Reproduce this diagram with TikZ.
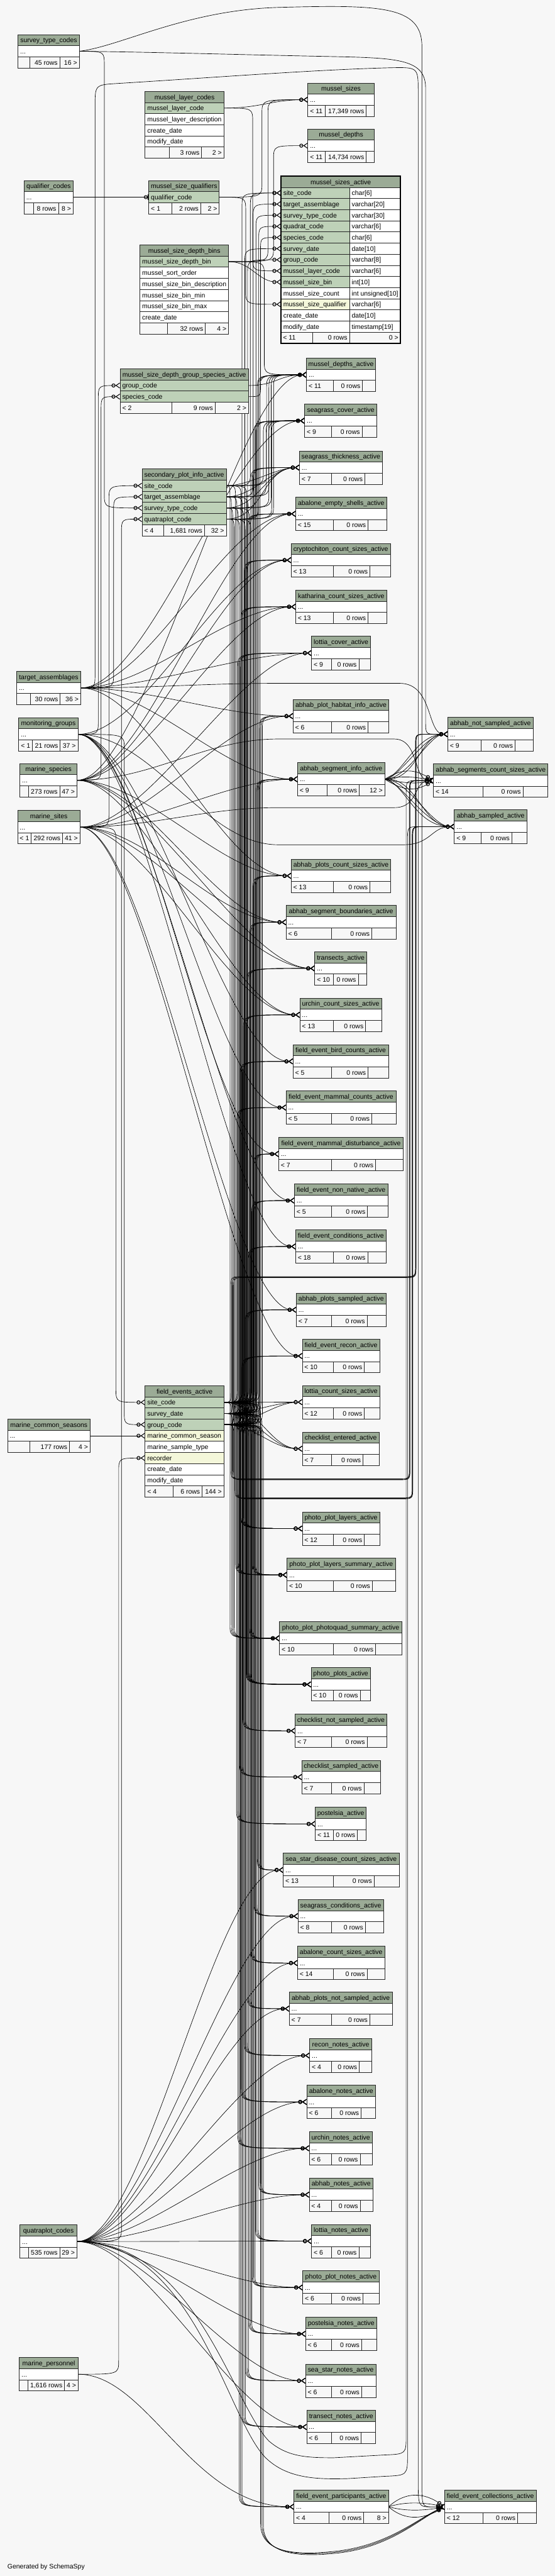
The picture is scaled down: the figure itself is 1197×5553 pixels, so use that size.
\documentclass[tikz,border=0pt]{standalone}
\usepackage{fontspec}
\setmainfont{Liberation Sans}
\usetikzlibrary{arrows.meta,calc}
\definecolor{bgc}{HTML}{F7F7F7}
\definecolor{hdrc}{HTML}{9BAB96}
\definecolor{keyc}{HTML}{BED1B8}
\definecolor{fkc}{HTML}{F4F7DA}
\newcommand\tabfont{\fontsize{14.2}{16}\selectfont}
\tikzset{
 tb/.style={draw=black!85,line width=1.1pt},
 txt/.style={font=\tabfont,inner sep=0pt,text=black},
 fk/.style={draw=black,line width=0.9pt,-{Circle[open,length=8.5pt,width=8.5pt,line width=1.4pt] Straight Barb[reversed,length=8pt,width=11pt,line width=1.4pt]}},
 fkone/.style={draw=black,line width=0.9pt,-{Circle[open,length=8.5pt,width=8.5pt,line width=1.4pt] Bar[width=11pt,line width=2.2pt]}},
}
% table parts
\newcommand\THdr[5]{\draw[tb,fill=hdrc] (#2,#4) rectangle (#3,#4+24);
 \node[txt,anchor=base] (#1) at ({(#2+#3)/2},#4+17.3) {#5};}
\newcommand\TRow[5]{\draw[tb,fill=#4] (#1,#3) rectangle (#2,#3+24);
 \node[txt,anchor=base west] at (#1+4.5,#3+17.3) {#5};}
\newcommand\TFoot[8]{\draw[tb,fill=bgc] (#1,#5) rectangle (#2,#5+24);
 \draw[tb,fill=bgc] (#2,#5) rectangle (#3,#5+24);
 \draw[tb,fill=bgc] (#3,#5) rectangle (#4,#5+24);
 \node[txt,anchor=base west] at (#1+4.5,#5+17.3) {#6};
 \node[txt,anchor=base east] at (#3-4.5,#5+17.3) {#7};
 \node[txt,anchor=base east] at (#4-4.5,#5+17.3) {#8};}
\newcommand\CTab[9]{\THdr{#1}{#2}{#5}{#6}{#7}\TRow{#2}{#5}{#6+24}{white}{...}\TFoot{#2}{#3}{#4}{#5}{#6+48}{#8}{#9}{}}
\newcommand\MRow[4]{\draw[tb,fill=#2] (606,#1) rectangle (754,#1+24);
 \draw[tb,fill=white] (754,#1) rectangle (864,#1+24);
 \node[txt,anchor=base west] at (611,#1+17.3) {#3};
 \node[txt,anchor=base west] at (758.5,#1+17.3) {#4};}
% connectors
\newcommand\Sedge[3]{\draw[fk] (#1) .. controls +(#3,0) and +(-#3,0) .. (#2);}
\newcommand\Vup[4]{\draw[fk] let \p1=(#1),\p2=(#2) in (\p1) .. controls ({(#3)*1pt},\y1) .. ({(#3)*1pt},\y1+#4pt) -- ({(#3)*1pt},\y2-#4pt) .. controls ({(#3)*1pt},\y2) .. (\p2);}
\newcommand\Vdn[4]{\draw[fk] let \p1=(#1),\p2=(#2) in (\p1) .. controls ({(#3)*1pt},\y1) .. ({(#3)*1pt},\y1-#4pt) -- ({(#3)*1pt},\y2+#4pt) .. controls ({(#3)*1pt},\y2) .. (\p2);}
\newcommand\FEu[2]{\Vup{feao1}{#1}{#2}{30}\Vup{feao2}{#1}{#2+3}{30}\Vup{feao3}{#1}{#2+6}{30}}
\newcommand\FEd[2]{\Vdn{feao1}{#1}{#2}{30}\Vdn{feao2}{#1}{#2+3}{30}\Vdn{feao3}{#1}{#2+6}{30}}
\newcommand\CorrA[7]{\draw[fk] (#1) .. controls (#3,#2) .. (#3,#2-25) -- (#3,#4+25) .. controls (#3,#4) .. (#3+25,#4) -- (#5-25,#4) .. controls (#5,#4) .. (#5,#4-25) -- (#5,#6+25) .. controls (#5,#6) .. (#5+25,#6) -- (#7);}
\newcommand\CorrB[7]{\draw[fk] (#1) .. controls (#3,#2) .. (#3,#2+25) -- (#3,#4-25) .. controls (#3,#4) .. (#3+25,#4) -- (#5-25,#4) .. controls (#5,#4) .. (#5,#4-25) -- (#5,#6+25) .. controls (#5,#6) .. (#5+25,#6) -- (#7);}
\begin{document}
\begin{tikzpicture}[x=1pt,y=-1pt]
\useasboundingbox (0,0) rectangle (1197,5553);
\fill[bgc] (0,0) rectangle (1197,5553);
% ---------- anchor coordinates
\coordinate (stc) at (171,110.5);
\coordinate (qc) at (158,425);
\coordinate (ta) at (174,1483);
\coordinate (mg) at (168,1583);
\coordinate (msp) at (166,1682);
\coordinate (msite) at (172.5,1783);
\coordinate (mcs) at (194.5,3095);
\coordinate (qpc) at (166,4832);
\coordinate (mp) at (168.8,5118);
\coordinate (mlc) at (483,233);
\coordinate (msqo) at (473,425);
\coordinate (msqi) at (321,425);
\coordinate (msdb) at (493,564);
\coordinate (gsgo) at (536,831);
\coordinate (gsso) at (536,855);
\coordinate (gsgi) at (259,831);
\coordinate (gssi) at (259,855);
\coordinate (spio1) at (488,1047);
\coordinate (spio2) at (488,1071);
\coordinate (spio3) at (488,1095);
\coordinate (spio4) at (488,1119);
\coordinate (spii1) at (306.5,1047);
\coordinate (spii2) at (306.5,1071);
\coordinate (spii3) at (306.5,1095);
\coordinate (spii4) at (306.5,1119);
\coordinate (feao1) at (483,3023);
\coordinate (feao2) at (483,3047);
\coordinate (feao3) at (483,3071);
\coordinate (feasite) at (313,3023);
\coordinate (feagrp) at (313,3071);
\coordinate (feamcs) at (313,3095);
\coordinate (fearec) at (313,3143);
\coordinate (asio) at (830,1679.7);
\coordinate (fepo) at (838,5403.7);
\coordinate (msz) at (664,215);
\coordinate (mdp) at (664,314);
\coordinate (msa1) at (606,416);
\coordinate (msa2) at (606,440);
\coordinate (msa3) at (606,464);
\coordinate (msa4) at (606,488);
\coordinate (msa5) at (606,512);
\coordinate (msa6) at (606,536);
\coordinate (msa7) at (606,560);
\coordinate (msa8) at (606,584);
\coordinate (msa9) at (606,608);
\coordinate (msa11) at (606,656);
\coordinate (mda) at (661,808);
\coordinate (sca) at (657,907);
\coordinate (sta) at (645.7,1008);
\coordinate (aes) at (637.7,1107.7);
\coordinate (ccs) at (628,1207.5);
\coordinate (kcs) at (637.7,1308);
\coordinate (lca) at (672,1407.8);
\coordinate (aphi) at (632,1543.7);
\coordinate (asi) at (641.7,1679.7);
\coordinate (apcs) at (628,1888);
\coordinate (asb) at (617,1988);
\coordinate (tra) at (679,2087.5);
\coordinate (ucs) at (646.7,2187.7);
\coordinate (fbc) at (632,2288);
\coordinate (fmc) at (617,2387.5);
\coordinate (fmd) at (601,2487.6);
\coordinate (fnn) at (635,2588);
\coordinate (fco) at (637.7,2687);
\coordinate (aps) at (639,2823.5);
\coordinate (fre) at (652,2923);
\coordinate (lcs) at (652,3022.5);
\coordinate (cea) at (652,3123);
\coordinate (ppl) at (652,3295);
\coordinate (pls) at (619,3395);
\coordinate (ppq) at (602.7,3531.6);
\coordinate (ppa) at (671,3631);
\coordinate (cns) at (636.7,3731);
\coordinate (csa) at (651,3830.7);
\coordinate (pos) at (680,3931.7);
\coordinate (ssd) at (611,4031);
\coordinate (sgc) at (642.7,4130.6);
\coordinate (acs) at (641.7,4231.6);
\coordinate (apn) at (624,4330);
\coordinate (rna) at (668,4431);
\coordinate (ana) at (661.7,4531);
\coordinate (una) at (667,4631);
\coordinate (abn) at (667,4731);
\coordinate (lna) at (672,4831);
\coordinate (ppn) at (653,4931);
\coordinate (pna) at (659,5031);
\coordinate (ssn) at (659,5132);
\coordinate (tna) at (661.5,5231.7);
\coordinate (fep) at (634,5403.7);
\coordinate (ans) at (965.7,1582.7);
\coordinate (asc) at (935,1682.7);
\coordinate (asa) at (980,1782);
\coordinate (fec) at (959,5404);
% ---------- connectors
\draw[fkone] (qc) -- (msqi);
\draw[fk] (mcs) -- (feamcs);
\Sedge{mlc}{msz}{80}
\Vdn{mlc}{msa8}{545}{30}
\Vup{msqo}{msz}{565}{30}
\Vdn{msqo}{msa11}{530}{30}
\Vup{msdb}{msz}{578}{30}
\Vup{msdb}{mdp}{590}{30}
\Sedge{msdb}{msa9}{50}
\Vdn{msdb}{mda}{570}{30}
\Vup{gsso}{msa5}{562}{25}
\Sedge{gsgo}{mda}{60}
% secondary plot info
\Vup{spio1}{msa1}{540}{30}
\Vup{spio2}{msa2}{546}{30}
\Vup{spio3}{msa3}{552}{30}
\Vup{spio4}{msa4}{558}{30}
\Vup{spio1}{mda}{575}{30}
\Vup{spio2}{mda}{580}{30}
\Vup{spio3}{mda}{585}{30}
\Vup{spio4}{mda}{590}{30}
\Vup{spio1}{sca}{568}{30}
\Vup{spio2}{sca}{574}{30}
\Vup{spio3}{sca}{580}{30}
\Vup{spio4}{sca}{586}{30}
\Sedge{spio1}{sta}{50}
\Sedge{spio2}{sta}{60}
\Sedge{spio3}{sta}{70}
\Sedge{spio4}{sta}{80}
\foreach \ch/\bb in {ppl/520,pls/508,ppq/496,ppa/532}{
 \Vdn{spio1}{\ch}{\bb}{30}\Vdn{spio2}{\ch}{\bb+3}{30}\Vdn{spio3}{\ch}{\bb+6}{30}\Vdn{spio4}{\ch}{\bb+9}{30}}
% field events
\Vup{feao1}{msa1}{522}{30}
\Vup{feao2}{msa6}{528}{30}
\Vup{feao3}{msa7}{534}{30}
\foreach \ch/\bb in {mda/555,sca/548,sta/541,aes/534,ccs/527,kcs/520,lca/513,aphi/560,asi/553,apcs/546,asb/539,tra/532,ucs/525,fbc/518,fmc/511,fmd/548,fnn/543,fco/536,aps/529,fre/522}{\FEu{\ch}{\bb}}
\Sedge{feao1}{lcs}{60}\Sedge{feao2}{lcs}{60}\Sedge{feao3}{lcs}{60}
\Sedge{feao1}{cea}{70}\Sedge{feao2}{cea}{70}\Sedge{feao3}{cea}{70}
\foreach \ch/\bb in {ppl/520,pls/545,ppq/538,ppa/531,cns/524,csa/517,pos/510,ssd/555,sgc/548,acs/541,apn/534,rna/527,ana/520,una/513,abn/558,lna/551,ppn/544,pna/537,ssn/530,tna/523,fep/516}{\FEd{\ch}{\bb}}
\CorrA{feao1}{3023}{498}{2752}{896}{1582.7}{ans}
\CorrA{feao2}{3047}{501}{2753}{896.7}{1582.7}{ans}
\CorrA{feao3}{3071}{504}{2754}{897.4}{1582.7}{ans}
\CorrB{feao1}{3023}{498}{3188}{883}{1682.7}{asc}
\CorrB{feao2}{3047}{501}{3189}{883.7}{1682.7}{asc}
\CorrB{feao3}{3071}{504}{3190}{884.4}{1682.7}{asc}
\CorrB{feao1}{3023}{507}{3229}{889}{1782}{asa}
\CorrB{feao2}{3047}{510}{3230}{889.7}{1782}{asa}
\CorrB{feao3}{3071}{513}{3231}{890.4}{1782}{asa}
\draw[fk] (feao1) .. controls (562,3023) .. (562,3053) -- (562,5440) .. controls (562,5505) and (640,5508) .. (720,5500) .. controls (840,5488) and (905,5425) .. (fec);
\draw[fk] (feao2) .. controls (565,3047) .. (565,3077) -- (565,5442) .. controls (565,5505) and (642,5510) .. (722,5502) .. controls (842,5490) and (906,5426) .. (fec);
\draw[fk] (feao3) .. controls (568,3071) .. (568,3101) -- (568,5444) .. controls (568,5507) and (644,5512) .. (724,5504) .. controls (844,5492) and (907,5427) .. (fec);
% abhab segment info -> column 4
\draw[fk] (asio) .. controls +(30,0) and +(-50,0) .. (ans);
\draw[fk] (asio) .. controls +(50,0) and +(-40,0) .. (ans);
\draw[fk] (asio) .. controls +(70,5) and +(-60,0) .. (ans);
\draw[fk] (asio) .. controls +(40,-10) and +(-70,0) .. (ans);
\draw[fk] (asio) .. controls +(40,-25) and +(-40,-25) .. (asc);
\draw[fk] (asio) .. controls +(40,-8) and +(-40,-8) .. (asc);
\draw[fk] (asio) .. controls +(40,8) and +(-40,8) .. (asc);
\draw[fk] (asio) .. controls +(40,25) and +(-40,25) .. (asc);
\draw[fk] (asio) .. controls +(30,0) and +(-60,0) .. (asa);
\draw[fk] (asio) .. controls +(50,0) and +(-50,0) .. (asa);
\draw[fk] (asio) .. controls +(70,-5) and +(-70,0) .. (asa);
\draw[fk] (asio) .. controls +(45,10) and +(-85,0) .. (asa);
% participants -> collections
\draw[fk] (fepo) .. controls (875,5370) and (915,5372) .. (fec);
\draw[fk] (fepo) .. controls (875,5392) and (915,5394) .. (fec);
\draw[fk] (fepo) .. controls (875,5414) and (915,5412) .. (fec);
\draw[fk] (fepo) .. controls (875,5436) and (915,5430) .. (fec);
% code tables -> secondary / group species / field events
\Vup{msite}{spii1}{235}{30}
\Vup{ta}{spii2}{245}{30}
\Vdn{stc}{spii3}{225}{30}
\Vup{qpc}{spii4}{262}{30}
\Vup{mg}{gsgi}{212}{30}
\Vup{msp}{gssi}{218}{30}
\Vdn{msite}{feasite}{250}{30}
\Vdn{mg}{feagrp}{268}{30}
\Vup{mp}{fearec}{256}{30}
\draw[fk] (mp) .. controls +(150,0) and +(-220,0) .. (fep);
% code tables -> column 3
\foreach \ch in {aes,kcs,lca,aphi,asi,apcs,sca}{\Sedge{ta}{\ch}{150}}
\foreach \ch in {ccs,fbc,fmc,fmd,fnn,fco}{\Sedge{mg}{\ch}{150}}
\foreach \ch in {aes,ccs,kcs,apcs,asb,ucs,tra,mda}{\Sedge{msp}{\ch}{150}}
\foreach \ch in {lca,aphi,asi,asb,tra,ucs,aps,fre}{\Sedge{msite}{\ch}{150}}
\foreach \ch in {ssd,sgc,acs,apn,rna,ana,una,abn,lna,ppn,pna,ssn,tna}{\Sedge{qpc}{\ch}{150}}
% long routes to column 4
\draw[fk] (ta) .. controls (330,1483) and (440,1473) .. (600,1473) -- (862,1473) .. controls (935,1473) and (920,1582.7) .. (ans);
\draw[fk] (msp) .. controls (330,1682) and (440,1593) .. (600,1593) -- (850,1593) .. controls (905,1593) and (890,1682.7) .. (asc);
\draw[fk] (msite) .. controls (330,1783) and (440,1741) .. (600,1741) -- (850,1741) .. controls (905,1741) and (890,1682.7) .. (asc);
\draw[fk] (mg) .. controls (330,1583) and (440,1821) .. (600,1821) -- (870,1821) .. controls (930,1821) and (930,1782) .. (asa);
\draw[fk] (qpc) .. controls (420,4832) and (500,5180) .. (580,5262) .. controls (620,5296) and (660,5298) .. (720,5298) -- (830,5292) .. controls (876,5290) .. (876,5250) -- (876,1712.7) .. controls (876,1682.7) .. (902,1682.7) -- (asc);
\draw[fk] (qpc) .. controls (420,4832) and (490,5220) .. (575,5300) .. controls (620,5342) and (680,5345) .. (750,5343) -- (830,5338) .. controls (879,5336) .. (879,5290) -- (879,1812) .. controls (879,1782) .. (905,1782) -- (asa);
\draw[fk] (stc) .. controls (260,100) and (400,22) .. (600,16) .. controls (820,10) and (910,12) .. (910,100) -- (910,5350) .. controls (910,5404) .. (935,5404) -- (fec);
\draw[fk] (ta) .. controls (205,1483) .. (205,1450) -- (205,230) .. controls (205,183) .. (252,180) .. controls (450,168) and (680,150) .. (845,146) .. controls (902,145) .. (902,200) -- (902,5345) .. controls (902,5404) .. (932,5404) -- (fec);
\draw[fk] (stc) .. controls (320,112) and (520,118) .. (720,122) .. controls (860,125) and (918,128) .. (918,190) -- (918,1553) .. controls (918,1582.7) .. (942,1582.7) -- (ans);
% ---------- tables, column 1
\THdr{tstc}{39}{171}{74.5}{survey\_type\_codes}
\TRow{39}{171}{98.5}{white}{...}
\TFoot{39}{64}{129}{171}{122.5}{}{45 rows}{16 >}
\THdr{tqc}{52}{158}{389}{qualifier\_codes}
\TRow{52}{158}{413}{white}{...}
\TFoot{52}{73}{126}{158}{437}{}{8 rows}{8 >}
\THdr{tta}{36}{174}{1447}{target\_assemblages}
\TRow{36}{174}{1471}{white}{...}
\TFoot{36}{65}{130}{174}{1495}{}{30 rows}{36 >}
\THdr{tmg}{40.5}{168}{1547}{monitoring\_groups}
\TRow{40.5}{168}{1571}{white}{...}
\TFoot{40.5}{70}{130}{168}{1595}{< 1}{21 rows}{37 >}
\THdr{tms}{43}{166}{1646}{marine\_species}
\TRow{43}{166}{1670}{white}{...}
\TFoot{43}{61}{129}{166}{1694}{}{273 rows}{47 >}
\THdr{tmsite}{38}{172.5}{1747}{marine\_sites}
\TRow{38}{172.5}{1771}{white}{...}
\TFoot{38}{67}{135}{172.5}{1795}{< 1}{292 rows}{41 >}
\THdr{tmcs}{16.5}{194.5}{3059}{marine\_common\_seasons}
\TRow{16.5}{194.5}{3083}{white}{...}
\TFoot{16.5}{64}{150}{194.5}{3107}{}{177 rows}{4 >}
\THdr{tqpc}{43}{166}{4796}{quatraplot\_codes}
\TRow{43}{166}{4820}{white}{...}
\TFoot{43}{61}{129}{166}{4844}{}{535 rows}{29 >}
\THdr{tmp}{41.7}{168.8}{5082}{marine\_personnel}
\TRow{41.7}{168.8}{5106}{white}{...}
\TFoot{41.7}{59.7}{139.3}{168.8}{5130}{}{1,616 rows}{4 >}
% ---------- column 2
\THdr{tmlc}{313}{483}{197}{mussel\_layer\_codes}
\TRow{313}{483}{221}{keyc}{mussel\_layer\_code}
\TRow{313}{483}{245}{white}{mussel\_layer\_description}
\TRow{313}{483}{269}{white}{create\_date}
\TRow{313}{483}{293}{white}{modify\_date}
\TFoot{313}{365}{435}{483}{317}{}{3 rows}{2 >}
\THdr{tmsq}{321}{473}{389}{mussel\_size\_qualifiers}
\TRow{321}{473}{413}{keyc}{qualifier\_code}
\TFoot{321}{371}{433}{473}{437}{< 1}{2 rows}{2 >}
\THdr{tmsdb}{302}{493}{528}{mussel\_size\_depth\_bins}
\TRow{302}{493}{552}{keyc}{mussel\_size\_depth\_bin}
\TRow{302}{493}{576}{white}{mussel\_sort\_order}
\TRow{302}{493}{600}{white}{mussel\_size\_bin\_description}
\TRow{302}{493}{624}{white}{mussel\_size\_bin\_min}
\TRow{302}{493}{648}{white}{mussel\_size\_bin\_max}
\TRow{302}{493}{672}{white}{create\_date}
\TFoot{302}{361}{443}{493}{696}{}{32 rows}{4 >}
\THdr{tgs}{259}{536}{795}{mussel\_size\_depth\_group\_species\_active}
\TRow{259}{536}{819}{keyc}{group\_code}
\TRow{259}{536}{843}{keyc}{species\_code}
\TFoot{259}{371}{464}{536}{867}{< 2}{9 rows}{2 >}
\THdr{tspi}{306.5}{488}{1011}{secondary\_plot\_info\_active}
\TRow{306.5}{488}{1035}{keyc}{site\_code}
\TRow{306.5}{488}{1059}{keyc}{target\_assemblage}
\TRow{306.5}{488}{1083}{keyc}{survey\_type\_code}
\TRow{306.5}{488}{1107}{keyc}{quatraplot\_code}
\TFoot{306.5}{353}{441}{488}{1131}{< 4}{1,681 rows}{32 >}
\THdr{tfea}{313}{483}{2987}{field\_events\_active}
\TRow{313}{483}{3011}{keyc}{site\_code}
\TRow{313}{483}{3035}{keyc}{survey\_date}
\TRow{313}{483}{3059}{keyc}{group\_code}
\TRow{313}{483}{3083}{fkc}{marine\_common\_season}
\TRow{313}{483}{3107}{white}{marine\_sample\_type}
\TRow{313}{483}{3131}{fkc}{recorder}
\TRow{313}{483}{3155}{white}{create\_date}
\TRow{313}{483}{3179}{white}{modify\_date}
\TFoot{313}{373}{436}{483}{3203}{< 4}{6 rows}{144 >}
% ---------- column 3
\CTab{tmsz}{664}{702}{790}{807}{179}{mussel\_sizes}{< 11}{17,349 rows}
\CTab{tmdp}{664}{702}{790}{807}{278}{mussel\_depths}{< 11}{14,734 rows}
\draw[tb,fill=hdrc] (606,380) rectangle (864,404);
\node[txt,anchor=base] (tmsa) at (735,397.3) {mussel\_sizes\_active};
\MRow{404}{keyc}{site\_code}{char[6]}
\MRow{428}{keyc}{target\_assemblage}{varchar[20]}
\MRow{452}{keyc}{survey\_type\_code}{varchar[30]}
\MRow{476}{keyc}{quadrat\_code}{varchar[6]}
\MRow{500}{keyc}{species\_code}{char[6]}
\MRow{524}{keyc}{survey\_date}{date[10]}
\MRow{548}{keyc}{group\_code}{varchar[8]}
\MRow{572}{keyc}{mussel\_layer\_code}{varchar[6]}
\MRow{596}{keyc}{mussel\_size\_bin}{int[10]}
\MRow{620}{white}{mussel\_size\_count}{int unsigned[10]}
\MRow{644}{fkc}{mussel\_size\_qualifier}{varchar[6]}
\MRow{668}{white}{create\_date}{date[10]}
\MRow{692}{white}{modify\_date}{timestamp[19]}
\TFoot{606}{674}{754}{864}{716}{< 11}{0 rows}{0 >}
\draw[line width=3pt,black] (606,380) rectangle (864,740);
\CTab{tmda}{661}{719}{782}{810}{772}{mussel\_depths\_active}{< 11}{0 rows}
\CTab{tsca}{657}{715}{781}{813}{871}{seagrass\_cover\_active}{< 9}{0 rows}
\CTab{tsta}{645.7}{715}{787}{824.7}{972}{seagrass\_thickness\_active}{< 7}{0 rows}
\CTab{taes}{637.7}{719}{794}{834}{1071.7}{abalone\_empty\_shells\_active}{< 15}{0 rows}
\CTab{tccs}{628}{719}{798}{842}{1171.5}{cryptochiton\_count\_sizes\_active}{< 13}{0 rows}
\CTab{tkcs}{637.7}{719}{794}{834}{1272}{katharina\_count\_sizes\_active}{< 13}{0 rows}
\CTab{tlca}{672}{715}{774}{799}{1371.8}{lottia\_cover\_active}{< 9}{0 rows}
\CTab{taphi}{632}{715}{794}{839}{1507.7}{abhab\_plot\_habitat\_info\_active}{< 6}{0 rows}
\THdr{tasi}{641.7}{830}{1643.7}{abhab\_segment\_info\_active}
\TRow{641.7}{830}{1667.7}{white}{...}
\TFoot{641.7}{706}{775}{830}{1691.7}{< 9}{0 rows}{12 >}
\CTab{tapcs}{628}{719}{798}{843}{1852}{abhab\_plots\_count\_sizes\_active}{< 13}{0 rows}
\CTab{tasb}{617}{715}{802}{854}{1952}{abhab\_segment\_boundaries\_active}{< 6}{0 rows}
\CTab{ttra}{679}{719}{772.7}{791}{2051.5}{transects\_active}{< 10}{0 rows}
\CTab{tucs}{646.7}{719}{788.7}{823}{2151.7}{urchin\_count\_sizes\_active}{< 13}{0 rows}
\CTab{tfbc}{632}{715}{794}{838}{2252}{field\_event\_bird\_counts\_active}{< 5}{0 rows}
\CTab{tfmc}{617}{715}{802}{854}{2351.5}{field\_event\_mammal\_counts\_active}{< 5}{0 rows}
\CTab{tfmd}{601}{715}{810}{870}{2451.6}{field\_event\_mammal\_disturbance\_active}{< 7}{0 rows}
\CTab{tfnn}{635}{715}{792.7}{836.7}{2552}{field\_event\_non\_native\_active}{< 5}{0 rows}
\CTab{tfco}{637.7}{719}{793}{832.7}{2651}{field\_event\_conditions\_active}{< 18}{0 rows}
\CTab{taps}{639}{715}{791.7}{832.7}{2787.5}{abhab\_plots\_sampled\_active}{< 7}{0 rows}
\CTab{tfre}{652}{719}{786}{819}{2887}{field\_event\_recon\_active}{< 10}{0 rows}
\CTab{tlcs}{652}{719}{786}{819}{2986.5}{lottia\_count\_sizes\_active}{< 12}{0 rows}
\CTab{tcea}{652}{715}{783}{818}{3087}{checklist\_entered\_active}{< 7}{0 rows}
\CTab{tppl}{652}{719}{786}{819}{3259}{photo\_plot\_layers\_active}{< 12}{0 rows}
\CTab{tpls}{619}{719}{803}{852.7}{3359}{photo\_plot\_layers\_summary\_active}{< 10}{0 rows}
\CTab{tppq}{602.7}{719}{810}{867}{3495.6}{photo\_plot\_photoquad\_summary\_active}{< 10}{0 rows}
\CTab{tppa}{671}{719}{777}{799}{3595}{photo\_plots\_active}{< 10}{0 rows}
\CTab{tcns}{636.7}{715}{791.7}{834}{3695}{checklist\_not\_sampled\_active}{< 7}{0 rows}
\CTab{tcsa}{651}{715}{785}{820.7}{3794.7}{checklist\_sampled\_active}{< 7}{0 rows}
\CTab{tpos}{680}{719}{771}{790}{3895.7}{postelsia\_active}{< 11}{0 rows}
\CTab{tssd}{611}{719}{807}{861}{3995}{sea\_star\_disease\_count\_sizes\_active}{< 13}{0 rows}
\CTab{tsgc}{642.7}{715}{788}{827}{4094.6}{seagrass\_conditions\_active}{< 8}{0 rows}
\CTab{tacs}{641.7}{719}{791.7}{830}{4195.6}{abalone\_count\_sizes\_active}{< 14}{0 rows}
\CTab{tapn}{624}{715}{797.7}{846}{4294}{abhab\_plots\_not\_sampled\_active}{< 7}{0 rows}
\CTab{trna}{668}{715}{775}{802}{4395}{recon\_notes\_active}{< 4}{0 rows}
\CTab{tana}{661.7}{715}{779}{810}{4495}{abalone\_notes\_active}{< 6}{0 rows}
\CTab{tuna}{667}{715}{776.7}{803}{4595}{urchin\_notes\_active}{< 6}{0 rows}
\CTab{tabn}{667}{715}{777}{804.7}{4695}{abhab\_notes\_active}{< 4}{0 rows}
\CTab{tlna}{672}{715}{774}{799}{4795}{lottia\_notes\_active}{< 6}{0 rows}
\CTab{tppn}{653}{715}{783}{818}{4895}{photo\_plot\_notes\_active}{< 6}{0 rows}
\CTab{tpna}{659}{715}{780}{812.7}{4995}{postelsia\_notes\_active}{< 6}{0 rows}
\CTab{tssn}{659}{715}{780}{811}{5096}{sea\_star\_notes\_active}{< 6}{0 rows}
\CTab{ttna}{661.5}{715}{779}{810}{5195.7}{transect\_notes\_active}{< 6}{0 rows}
\THdr{tfep}{634}{838}{5367.7}{field\_event\_participants\_active}
\TRow{634}{838}{5391.7}{white}{...}
\TFoot{634}{710}{784.6}{838}{5415.7}{< 4}{0 rows}{8 >}
% ---------- column 4
\CTab{tans}{965.7}{1037.7}{1111}{1150}{1546.7}{abhab\_not\_sampled\_active}{< 9}{0 rows}
\CTab{tasc}{935}{1041.7}{1128}{1182}{1646.7}{abhab\_segments\_count\_sizes\_active}{< 14}{0 rows}
\CTab{tasa}{980}{1037.7}{1104}{1136.7}{1746}{abhab\_sampled\_active}{< 9}{0 rows}
\CTab{tfec}{959}{1041.6}{1116.4}{1156.5}{5368}{field\_event\_collections\_active}{< 12}{0 rows}
\node[txt,anchor=base west] (gen) at (16,5537) {Generated by SchemaSpy};
\end{tikzpicture}
\end{document}
